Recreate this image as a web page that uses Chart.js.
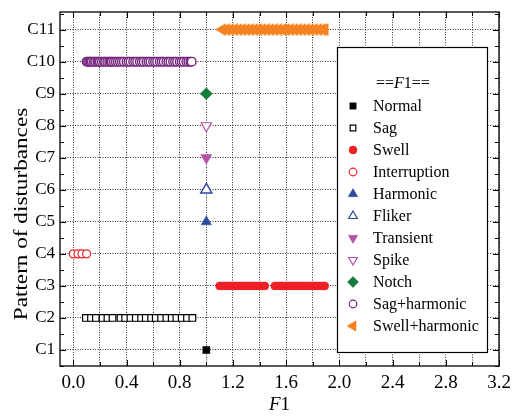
<!DOCTYPE html>
<html>
<head>
<meta charset="utf-8">
<script src="https://cdn.jsdelivr.net/npm/chart.js@4.4.1/dist/chart.umd.min.js"></script>
<style>
  html, body { margin: 0; padding: 0; background: #fff; }
  #wrap { width: 512px; height: 416px; }
</style>
</head>
<body>
<div id="wrap"><canvas id="c" width="512" height="416"></canvas></div>
<script>
// --- data ---
const rowLabels = ['C1', 'C2', 'C3', 'C4', 'C5', 'C6', 'C7', 'C8', 'C9', 'C10', 'C11'];
const xTicks = [0, 0.2, 0.4, 0.6, 0.8, 1.0, 1.2, 1.4, 1.6, 1.8, 2.0, 2.2, 2.4, 2.6, 2.8, 3.0, 3.2];
const xMajor = [0, 0.4, 0.8, 1.2, 1.6, 2.0, 2.4, 2.8, 3.2];

const normalX = [1.0];
const sagX = [0.095, 0.133, 0.17, 0.22, 0.257, 0.295, 0.355, 0.39, 0.43, 0.47, 0.51, 0.545, 0.585,
              0.62, 0.66, 0.7, 0.74, 0.775, 0.815, 0.855, 0.895];
const swellX = [1.10, 1.12, 1.14, 1.16, 1.18, 1.20, 1.22, 1.24, 1.26, 1.28, 1.30, 1.32, 1.34, 1.36,
                1.38, 1.40, 1.42, 1.44, 1.515, 1.535, 1.555, 1.575, 1.595, 1.615, 1.635, 1.655,
                1.675, 1.695, 1.715, 1.735, 1.755, 1.775, 1.795, 1.815, 1.835, 1.855, 1.875, 1.89];
const interruptionX = [0.0, 0.035, 0.065, 0.1];
const harmonicX = [1.0];
const flikerX = [1.0];
const transientX = [1.0];
const spikeX = [1.0];
const notchX = [1.0];
const sagHarmX = [0.1, 0.11, 0.12, 0.13, 0.14, 0.155, 0.165, 0.18, 0.19, 0.2, 0.215, 0.23, 0.24,
                  0.255, 0.27, 0.28, 0.29, 0.305, 0.32, 0.335, 0.35, 0.365, 0.38, 0.4, 0.415, 0.43,
                  0.45, 0.465, 0.48, 0.5, 0.515, 0.53, 0.55, 0.565, 0.58, 0.6, 0.615, 0.63, 0.65,
                  0.665, 0.68, 0.7, 0.715, 0.73, 0.75, 0.765, 0.78, 0.8, 0.815, 0.83, 0.85, 0.865,
                  0.88, 0.89];
const swellHarmX = [1.12, 1.15, 1.18, 1.21, 1.24, 1.27, 1.30, 1.33, 1.36, 1.39, 1.42, 1.45, 1.48,
                    1.51, 1.54, 1.57, 1.60, 1.63, 1.66, 1.69, 1.72, 1.75, 1.78, 1.81, 1.84, 1.87, 1.89];

const FONT = "'Liberation Serif', 'Times New Roman', serif";

function series(label, xs, row, style, color, open, r, rot, legR, bw) {
    return {
        label,
        data: xs.map(x => ({ x, y: row })),
        pointStyle: style,
        rotation: rot || 0,
        pointRadius: r,
        pointHoverRadius: r,
        backgroundColor: open ? '#fff' : color,
        borderColor: color,
        pointBorderWidth: bw || (open ? 1.2 : 0.5),
        legR: legR
    };
}

const datasets = [
    series('Normal', normalX, 1, 'rect', '#000', false, 5, 0, 4.5),
    series('Sag', sagX, 2, 'rect', '#000', true, 4.7, 0, 4),
    series('Swell', swellX, 3, 'circle', '#ee2026', false, 4, 0, 4),
    series('Interruption', interruptionX, 4, 'circle', '#ee2026', true, 4, 0, 3.8),
    series('Harmonic', harmonicX, 5, 'triangle', '#2e4a9e', false, 6, 0, 5.5),
    series('Fliker', flikerX, 6, 'triangle', '#2e4a9e', true, 6.5, 0, 5, 1.4),
    series('Transient', transientX, 7, 'triangle', '#b553a8', false, 6.5, 180, 5.5),
    series('Spike', spikeX, 8, 'triangle', '#b553a8', true, 6, 180, 5),
    series('Notch', notchX, 9, 'rectRot', '#137b3c', false, 6, 0, 5.5),
    series('Sag+harmonic', sagHarmX, 10, 'circle', '#74237c', true, 4.3, 0, 3.8, 1.4),
    series('Swell+harmonic', swellHarmX, 11, 'triangle', '#f58220', false, 7, -90, 6)
];

function txt(ctx, s, x, y, font) {
    ctx.font = font;
    ctx.fillText(s, x, y);
    return ctx.measureText(s).width;
}

// small marker painter for the legend (same shapes as the chart)
function marker(ctx, style, r, rot, x, y, bw) {
    ctx.beginPath();
    if (style === 'circle') {
        ctx.arc(x, y, r, 0, Math.PI * 2);
    } else if (style === 'rect') {
        const s = r * Math.SQRT1_2;
        ctx.rect(x - s, y - s, 2 * s, 2 * s);
    } else if (style === 'rectRot') {
        ctx.moveTo(x, y - r); ctx.lineTo(x + r, y); ctx.lineTo(x, y + r); ctx.lineTo(x - r, y);
    } else {
        let rad = rot * Math.PI / 180;
        ctx.moveTo(x + Math.sin(rad) * r, y - Math.cos(rad) * r);
        rad += 2 * Math.PI / 3;
        ctx.lineTo(x + Math.sin(rad) * r, y - Math.cos(rad) * r);
        rad += 2 * Math.PI / 3;
        ctx.lineTo(x + Math.sin(rad) * r, y - Math.cos(rad) * r);
    }
    ctx.closePath();
    ctx.fill();
    if (bw > 0) ctx.stroke();
}

const decor = {
    id: 'decor',
    afterDraw(chart) {
        const ctx = chart.ctx, a = chart.chartArea;
        const xs = chart.scales.x, ys = chart.scales.y;
        ctx.save();
        // frame
        ctx.strokeStyle = '#000';
        ctx.lineWidth = 1.3;
        ctx.strokeRect(a.left, a.top, a.right - a.left, a.bottom - a.top);
        // inward ticks
        ctx.lineWidth = 1;
        ctx.beginPath();
        xTicks.forEach(v => {
            const px = Math.round(xs.getPixelForValue(v)) + 0.5;
            const len = xMajor.includes(v) ? 6 : 4;
            ctx.moveTo(px, a.bottom); ctx.lineTo(px, a.bottom - len);
            ctx.moveTo(px, a.top); ctx.lineTo(px, a.top + len);
        });
        for (let v = 0.5; v <= 11.5; v += 0.5) {
            const py = Math.round(ys.getPixelForValue(v)) + 0.5;
            const len = Number.isInteger(v) ? 6 : 4;
            ctx.moveTo(a.left, py); ctx.lineTo(a.left + len, py);
            ctx.moveTo(a.right, py); ctx.lineTo(a.right - len, py);
        }
        ctx.stroke();

        // axis titles
        ctx.fillStyle = '#000';
        ctx.textBaseline = 'middle';
        ctx.textAlign = 'left';
        ctx.font = 'italic 19px ' + FONT;
        const wF = ctx.measureText('F').width;
        ctx.font = '19px ' + FONT;
        const w1 = ctx.measureText('1').width;
        let sx = (a.left + a.right) / 2 - (wF + w1) / 2;
        sx += txt(ctx, 'F', sx, 405, 'italic 19px ' + FONT);
        txt(ctx, '1', sx, 405, '19px ' + FONT);

        ctx.save();
        ctx.translate(22, 214);
        ctx.rotate(-Math.PI / 2);
        ctx.scale(1.22, 1);
        ctx.textAlign = 'center';
        ctx.font = '19px ' + FONT;
        ctx.fillText('Pattern of disturbances', 0, 0);
        ctx.restore();

        // legend box
        const bx = 337, by = 47, bw = 150, bh = 305;
        ctx.fillStyle = '#fff';
        ctx.fillRect(bx, by, bw, bh);
        ctx.strokeStyle = '#000';
        ctx.lineWidth = 1.2;
        ctx.strokeRect(bx + 0.5, by + 0.5, bw, bh);

        ctx.fillStyle = '#000';
        ctx.textAlign = 'left';
        let tx = 376;
        tx += txt(ctx, '==', tx, 84, '16px ' + FONT);
        tx += txt(ctx, 'F', tx, 84, 'italic 16px ' + FONT);
        txt(ctx, '1==', tx, 84, '16px ' + FONT);

        datasets.forEach((d, i) => {
            const y = 106 + i * 22;
            ctx.fillStyle = d.backgroundColor;
            ctx.strokeStyle = d.borderColor;
            ctx.lineWidth = Math.min(d.pointBorderWidth, 1.2);
            marker(ctx, d.pointStyle, d.legR, d.rotation, 353, y, d.pointBorderWidth);
            ctx.fillStyle = '#000';
            txt(ctx, d.label, 373, y + 1, '16px ' + FONT);
        });
        ctx.restore();
    }
};

new Chart(document.getElementById('c'), {
    type: 'scatter',
    data: { datasets },
    plugins: [decor],
    options: {
        responsive: false,
        animation: false,
        events: [],
        layout: { padding: { top: 12, right: 13, left: 0, bottom: 0 } },
        plugins: { legend: { display: false }, tooltip: { enabled: false } },
        scales: {
            x: {
                type: 'linear', min: -0.1, max: 3.2,
                afterBuildTicks: s => { s.ticks = xTicks.map(v => ({ value: v })); },
                afterFit: s => { s.height = 50; s.paddingLeft = 0; s.paddingRight = 0; },
                ticks: {
                    autoSkip: false, maxRotation: 0, padding: 6, color: '#000',
                    font: { family: FONT, size: 19 },
                    callback: v => xMajor.includes(v) ? v.toFixed(1) : ''
                },
                grid: { color: '#333', lineWidth: 1, drawTicks: false },
                border: { display: false, dash: [1, 1.5] }
            },
            y: {
                type: 'linear', min: 0.5, max: 11.55,
                afterBuildTicks: s => { s.ticks = rowLabels.map((_, i) => ({ value: i + 1 })); },
                afterFit: s => { s.width = 60; s.paddingTop = 0; s.paddingBottom = 0; },
                ticks: {
                    autoSkip: false, padding: 5, color: '#000',
                    font: { family: FONT, size: 17 },
                    callback: v => rowLabels[v - 1]
                },
                grid: { color: '#333', lineWidth: 1, drawTicks: false },
                border: { display: false, dash: [1, 1.5] }
            }
        }
    }
});
</script>
</body>
</html>
